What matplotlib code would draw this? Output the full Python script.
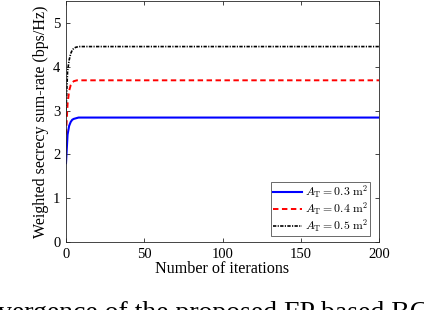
import numpy as np
import matplotlib
matplotlib.use('Agg')
import matplotlib.pyplot as plt

plt.rcParams['font.family'] = 'Liberation Serif'
plt.rcParams['mathtext.fontset'] = 'cm'

# iterations and weighted secrecy sum-rate
iters = [0, 1, 2, 3, 4, 5, 6, 7, 8, 200]
rate_03 = [1.80, 2.45, 2.65, 2.74, 2.79, 2.81, 2.82, 2.83, 2.84, 2.84]
rate_04 = [2.45, 3.15, 3.45, 3.58, 3.64, 3.67, 3.68, 3.69, 3.69, 3.69]
rate_05 = [3.00, 3.90, 4.15, 4.30, 4.38, 4.42, 4.44, 4.45, 4.46, 4.46]

labels = [r'$A_{\mathrm{T}} = 0.3\ \mathrm{m}^2$',
          r'$A_{\mathrm{T}} = 0.4\ \mathrm{m}^2$',
          r'$A_{\mathrm{T}} = 0.5\ \mathrm{m}^2$']

fig = plt.figure(figsize=(4.24, 3.10), dpi=100)
ax = fig.add_axes([66/424, 1 - 242/310, (379 - 66)/424, 241/310])

ax.plot(iters, rate_03, color='#0000ff', lw=1.5, label=labels[0])
ax.plot(iters, rate_04, color='#ff0000', lw=1.4, ls=(0, (2.8, 1.8)), label=labels[1])
ax.plot(iters, rate_05, color='black', lw=1.2, ls=(0, (2.0, 0.8, 0.7, 0.8)), label=labels[2])

ax.set_xlim(0, 200)
ax.set_ylim(0, 5.5)
ax.set_xticks([0, 50, 100, 150, 200])
ax.set_yticks([0, 1, 2, 3, 4, 5])
ax.tick_params(direction='in', top=True, right=True, length=3, width=0.6,
               labelsize=10.5, color='#262626', pad=4)
for s in ax.spines.values():
    s.set_linewidth(0.6)
    s.set_color('#262626')

ax.set_xlabel('Number of iterations', fontsize=11.6, labelpad=0)
ax.set_ylabel('Weighted secrecy sum-rate (bps/Hz)', fontsize=11.5, labelpad=3)

leg = ax.legend(loc='lower right', fontsize=8.5, frameon=True, fancybox=False,
                edgecolor='#262626', handlelength=2.5, handletextpad=0.2,
                borderpad=0.15, labelspacing=0.0, borderaxespad=0.5,
                bbox_to_anchor=(0.0, 0.0, 0.99, 1.0))
leg.get_frame().set_linewidth(0.6)

fig.text(-0.005, 0.028, 'vergence of the proposed FP based BCD algorithm',
         fontsize=20, va='top', ha='left')

fig.savefig('out.png', dpi=100)
